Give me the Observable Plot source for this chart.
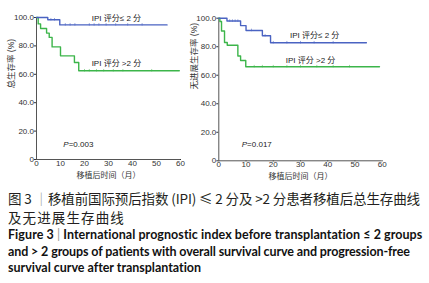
<!DOCTYPE html>
<html><head><meta charset="utf-8">
<script src="https://cdn.jsdelivr.net/npm/d3@7"></script>
<script src="https://cdn.jsdelivr.net/npm/@observablehq/plot@0.6"></script>
<style>
body{margin:0;background:#fff;}
#wrap{position:relative;width:429px;height:283px;overflow:hidden;}
#left,#right{position:absolute;top:0;}
#left{left:0}#right{left:180px}
svg{overflow:visible}
.cap{position:absolute;left:8px;white-space:nowrap;}
.zh{font-family:"Noto Sans CJK SC",sans-serif;font-size:13.5px;line-height:18px;color:#231f20;}
.en{font-family:Lato,sans-serif;font-weight:700;font-size:12.5px;line-height:16px;color:#111;}
.bar{color:#999;font-weight:400}
</style></head>
<body><div id="wrap">
<div id="left"></div><div id="right"></div>
<div class="cap zh" data-w="412" style="top:189px">图 3 <span class="bar">｜</span>移植前国际预后指数 (IPI) ≤ 2 分及 &gt;2 分患者移植后总生存曲线</div>
<div class="cap zh" data-w="117" style="top:208px">及无进展生存曲线</div>
<div class="cap en" data-w="415" style="top:227px">Figure 3 <span class="bar">|</span> International prognostic index before transplantation ≤ 2 groups</div>
<div class="cap en" data-w="402" style="top:244px">and &gt; 2 groups of patients with overall survival curve and progression-free</div>
<div class="cap en" data-w="193" style="top:260px">survival curve after transplantation</div>
</div>
<script>
// Overall survival (left panel)
const osLowTime  = [0, 4.7, 9.7, 54.4];
const osLowSurv  = [100, 98.4, 94.8, 94.8];
const osHighTime = [0, 0.7, 1.7, 4.2, 5.3, 6.5, 10, 15.8, 17.6, 59.5];
const osHighSurv = [100, 95.5, 92.3, 89, 86, 79.3, 73, 68.3, 62.5, 62.5];
const osLowCensor  = [6, 7.5, 12, 14, 16, 22, 24, 26, 29, 33, 38, 44];
const osHighCensor = [20, 22, 25, 28, 32, 36, 48];
// Progression-free survival (right panel)
const pfsLowTime  = [0, 3, 8, 10, 16, 19, 54.2];
const pfsLowSurv  = [100, 98, 94.8, 91.4, 87.7, 82.8, 82.8];
const pfsHighTime = [0, 0.4, 1.0, 2.1, 3.1, 7.0, 8.0, 9.9, 59];
const pfsHighSurv = [100, 97.7, 91, 83, 81, 73.5, 70.3, 66, 66];
const pfsLowCensor  = [4, 5, 6, 7, 12, 17, 20, 25, 30, 35, 42];
const pfsHighCensor = [13, 16, 20, 25, 30, 36, 42, 48];

const groupLabels = ["IPI 评分≤ 2 分", "IPI 评分 >2 分"];
const pValues = ["=0.003", "=0.017"];
const xTicks = [0, 10, 20, 30, 40, 50, 60];
const yTicks = [0, 20, 40, 60, 80, 100];
const xTitle = "移植后时间（月）";
const yTitles = ["总生存率 (%)", "无进展生存率 (%)"];

const BLUE = "#4a63c2", GREEN = "#3cb54a", BLUE_L = "#9aa8dc", GREEN_L = "#9bd8a0";

function series(t, s) { return t.map((d, i) => ({t: d, s: s[i]})); }
function survAt(t, s, x) { let v = s[0]; for (let i = 0; i < t.length; i++) if (t[i] <= x) v = s[i]; return v; }
function censor(c, t, s) { return c.map(x => ({t: x, s: survAt(t, s, x)})); }

function km(cfg) {
  const low = series(cfg.lt, cfg.ls), high = series(cfg.ht, cfg.hs);
  const lc = censor(cfg.lc, cfg.lt, cfg.ls), hc = censor(cfg.hc, cfg.ht, cfg.hs);
  const txt = {fill: "#222", fontSize: 8};
  return Plot.plot({
    width: cfg.width, height: 182,
    marginLeft: cfg.ml, marginRight: cfg.mr, marginTop: cfg.mt, marginBottom: cfg.mb,
    style: {fontSize: "8px", fontFamily: "'Liberation Sans','Noto Sans CJK SC',sans-serif", color: "#333", background: "transparent"},
    x: {domain: [0, 60], ticks: xTicks, tickSize: 1, tickPadding: 0, label: null},
    y: {domain: [0, 100], ticks: yTicks, tickSize: 2, tickPadding: 0.5, tickFormat: d => d === 0 ? "0" : d.toFixed(1), label: null},
    marks: [
      Plot.ruleX([0], {stroke: "#555"}),
      Plot.ruleY([0], {stroke: "#555"}),
      Plot.ruleX(lc, {x: "t", y1: d => d.s - 0.9, y2: d => d.s + 0.9, stroke: BLUE_L}),
      Plot.ruleX(hc, {x: "t", y1: d => d.s - 0.9, y2: d => d.s + 0.9, stroke: GREEN_L}),
      Plot.line(high, {x: "t", y: "s", curve: "step-after", stroke: GREEN, strokeWidth: 1.4}),
      Plot.line(low, {x: "t", y: "s", curve: "step-after", stroke: BLUE, strokeWidth: 1.4}),
      Plot.text([groupLabels[0]], {x: cfg.lab[0][0], y: cfg.lab[0][1], text: d => d, ...txt}),
      Plot.text([groupLabels[1]], {x: cfg.lab[1][0], y: cfg.lab[1][1], text: d => d, ...txt}),
      Plot.text(["P"], {x: cfg.p[0], y: cfg.p[1], text: d => d, textAnchor: "end", fontStyle: "italic", ...txt}),
      Plot.text([cfg.pv], {x: cfg.p[0], y: cfg.p[1], text: d => d, textAnchor: "start", ...txt}),
      Plot.text([xTitle], {frameAnchor: "bottom", dy: 18, text: d => d, fill: "#333", fontSize: 8}),
      Plot.text([cfg.ytitle], {frameAnchor: "left", dx: -25, rotate: -90, text: d => d, fill: "#333", fontSize: 8.5})
    ]
  });
}

document.getElementById("left").append(km({
  width: 200, ml: 36, mr: 20, mt: 17, mb: 23, ytitle: yTitles[0],
  lt: osLowTime, ls: osLowSurv, ht: osHighTime, hs: osHighSurv, lc: osLowCensor, hc: osHighCensor,
  lab: [[33.3, 99.3], [33.3, 67.6]], p: [13.4, 10.6], pv: pValues[0]
}));
document.getElementById("right").append(km({
  width: 249, ml: 38.3, mr: 47.3, mt: 17.7, mb: 21.7, ytitle: yTitles[1],
  lt: pfsLowTime, ls: pfsLowSurv, ht: pfsHighTime, hs: pfsHighSurv, lc: pfsLowCensor, hc: pfsHighCensor,
  lab: [[35.2, 87.9], [33.7, 70.3]], p: [10.4, 11.4], pv: pValues[1]
}));

// fit caption lines to the reference widths
document.querySelectorAll(".cap").forEach(el => {
  const target = +el.dataset.w;
  const n = el.textContent.length;
  const w = el.getBoundingClientRect().width;
  el.style.letterSpacing = ((target - w) / n) + "px";
});
</script>
</body></html>
